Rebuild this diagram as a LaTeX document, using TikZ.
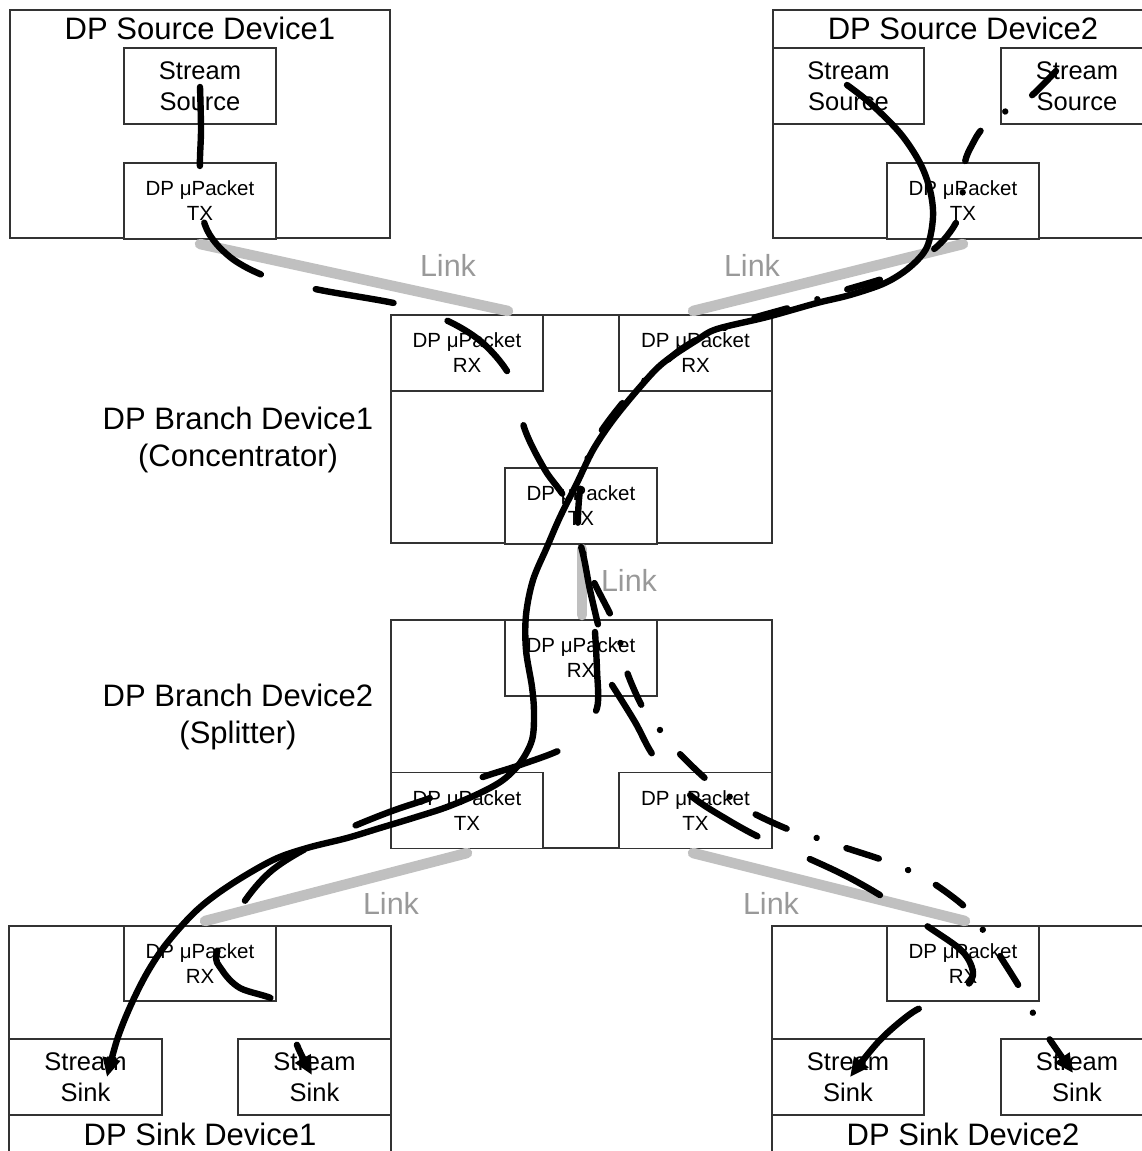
\documentclass[tikz,border=0pt]{standalone}
\usepackage{fontspec}
\setmainfont{Liberation Sans}
\usetikzlibrary{arrows.meta}
\definecolor{boxline}{HTML}{333333}
\definecolor{linkline}{HTML}{C0C0C0}
\definecolor{linktext}{HTML}{999999}
\begin{document}
\begin{tikzpicture}[x=1pt,y=-1pt,
  dev/.style={draw=boxline, line width=1.3pt, fill=white, inner sep=0pt, outer sep=0pt},
  unit/.style={dev, minimum width=152pt, minimum height=76pt, align=center},
  big/.style={font=\fontsize{31}{37}\selectfont, inner sep=0pt},
  mid/.style={font=\fontsize{25.5}{30.5}\selectfont},
  small/.style={font=\fontsize{20.5}{25}\selectfont},
  link/.style={draw=linkline, line width=10.5pt, line cap=round},
  linklabel/.style={font=\fontsize{30.5}{36}\selectfont, text=linktext, inner sep=0pt},
  flow/.style={draw=black, line width=6.4pt, line cap=round, line join=round},
  tip/.style={-{Triangle[length=19pt,width=17pt]}},
  dashedflow/.style={flow, dash pattern=on 79pt off 57pt},
  dashdotflow/.style={flow, dash pattern=on 34pt off 31.5pt on 0.01pt off 31.5pt}
]
\useasboundingbox (0,0) rectangle (1142,1151);
\clip (0,0) rectangle (1142,1151);

% ---------- Source Device 1
\node[dev, minimum width=380pt, minimum height=228pt] (src1) at (200,124) {};
\node[big, anchor=base] (src1t) at (200,39) {DP Source Device1};
\node[unit, mid] (ss1) at (200,86) {Stream\\Source};
\node[unit, small] (tx1) at (200,201) {DP μPacket\\TX};

% ---------- Source Device 2
\node[dev, minimum width=380pt, minimum height=228pt] (src2) at (963,124) {};
\node[big, anchor=base] (src2t) at (963,39) {DP Source Device2};
\node[unit, mid, minimum width=151pt] (ss2a) at (848.5,86) {Stream\\Source};
\node[unit, mid] (ss2b) at (1077,86) {Stream\\Source};
\node[unit, small] (tx2) at (963,201) {DP μPacket\\TX};

% ---------- Branch Device 1
\node[dev, minimum width=381pt, minimum height=228pt] (br1) at (581.5,429) {};
\node[unit, small] (br1rxa) at (467,353) {DP μPacket\\RX};
\node[unit, small, minimum width=153pt] (br1rxb) at (695.5,353) {DP μPacket\\RX};
\node[unit, small] (br1tx) at (581,506) {DP μPacket\\TX};
\node[big, align=center] (br1t) at (238,440) {DP Branch Device1\\(Concentrator)};

% ---------- Branch Device 2
\node[dev, minimum width=381pt, minimum height=228pt] (br2) at (581.5,734) {};
\node[unit, small] (br2rx) at (581,658) {DP μPacket\\RX};
\node[unit, small] (br2txa) at (467,810.5) {DP μPacket\\TX};
\node[unit, small, minimum width=153pt] (br2txb) at (695.5,810.5) {DP μPacket\\TX};
\node[big, align=center] (br2t) at (238,717) {DP Branch Device2\\(Splitter)};

% ---------- Sink Device 1
\node[dev, minimum width=382pt, minimum height=240pt] (snk1) at (200,1046) {};
\node[unit, small, minimum height=75pt] (rxs1) at (200,963.5) {DP μPacket\\RX};
\node[unit, mid, minimum width=153pt] (sk1a) at (85.5,1077) {Stream\\Sink};
\node[unit, mid, minimum width=153pt] (sk1b) at (314.5,1077) {Stream\\Sink};
\node[big, anchor=base] (snk1t) at (200,1145) {DP Sink Device1};

% ---------- Sink Device 2
\node[dev, minimum width=381pt, minimum height=240pt] (snk2) at (962.5,1046) {};
\node[unit, small, minimum height=75pt] (rxs2) at (963,963.5) {DP μPacket\\RX};
\node[unit, mid] (sk2a) at (848,1077) {Stream\\Sink};
\node[unit, mid] (sk2b) at (1077,1077) {Stream\\Sink};
\node[big, anchor=base] (snk2t) at (963,1145) {DP Sink Device2};

% ---------- Links
\coordinate (l1a) at (200,244);  \coordinate (l1b) at (508,311);
\coordinate (l2a) at (963,244);  \coordinate (l2b) at (693,311);
\coordinate (l3a) at (582,549);  \coordinate (l3b) at (582,615);
\coordinate (l4a) at (467,853);  \coordinate (l4b) at (205,921);
\coordinate (l5a) at (693,853);  \coordinate (l5b) at (965,921);
\draw[link] (l1a) -- (l1b);
\draw[link] (l2a) -- (l2b);
\draw[link] (l3a) -- (l3b);
\draw[link] (l4a) -- (l4b);
\draw[link] (l5a) -- (l5b);
\node[linklabel] (lk1) at (448,265) {Link};
\node[linklabel] (lk2) at (752,265) {Link};
\node[linklabel] (lk3) at (629,580) {Link};
\node[linklabel] (lk4) at (391,903) {Link};
\node[linklabel] (lk5) at (771,903) {Link};

% ---------- Stream A (solid): Source2 left stream -> Sink1 left stream
\draw[flow, tip] plot[smooth, tension=0.55] coordinates {
 (847,85) (870,103) (900,133) (920,163) (930,190) (933,217) (927,247) (910,267)
 (885,283) (850,295) (817,303) (767,317) (717,329) (697,340) (663,363) (640,387)
 (613,420) (593,450) (577,483) (560,517) (547,547) (533,580) (526,615) (526,650)
 (532,687) (534,713) (532,740) (520,763) (503,780) (480,793) (447,807) (413,818)
 (380,828) (347,838) (307,848) (273,860) (230,885) (197,910) (167,943) (147,973)
 (130,1007) (117,1040) (107,1077)};

% ---------- Stream B (dashed): Source1 -> Branch2 RX
\draw[dashedflow] plot[smooth, tension=0.55] coordinates {
 (200,87) (201,130) (200,172) (205,225) (230,257) (270,278) (320,290) (403,305)
 (450,322) (485,345) (512,380) (525,430) (545,470) (567,502) (582,550) (590,590)
 (600,633)};
% Stream B copy to Sink1 right stream
\draw[dashedflow, tip] plot[smooth, tension=0.55] coordinates {
 (595,632) (597,670) (597,708) (580,732) (562,749) (520,765) (480,778) (433,797)
 (392,811) (352,827) (307,848) (270,872) (242,905) (217,952) (222,970) (240,988)
 (275,1000) (292,1020) (297,1045) (312,1075)};
% Stream B copy to Sink2 left stream
\draw[dashedflow, tip] plot[smooth, tension=0.55] coordinates {
 (612,685) (635,722) (655,758) (690,795) (728,820) (765,840) (812,860) (850,878)
 (888,900) (930,928) (963,952) (973,975) (960,992) (935,1003) (913,1012) (880,1040)
 (850,1077)};

% ---------- Stream C (dash-dot): Source2 right stream -> Sink2 right stream
\draw[dashdotflow, tip] plot[smooth, tension=0.55] coordinates {
 (1056,71) (1030,97) (1006,111) (983,128) (972,145) (965,162) (963,190) (958,218)
 (947,236) (933,250) (910,267) (885,278) (845,290) (818,299) (792,307) (753,318)
 (727,327) (700,338) (680,350) (663,364) (645,380) (625,400) (600,433) (587,460)
 (580,490) (578,527) (583,552) (593,580) (612,618) (621,645) (627,672) (643,708)
 (660,730) (678,752) (707,780) (730,797) (753,813) (790,830) (817,838) (843,847)
 (883,860) (908,870) (933,883) (965,907) (983,930) (998,953) (1020,988) (1033,1013)
 (1048,1037) (1073,1073)};
\end{tikzpicture}
\end{document}
